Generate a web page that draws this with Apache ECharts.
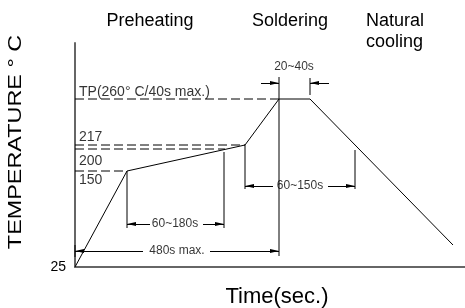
<!DOCTYPE html>
<html>
<head>
<meta charset="utf-8">
<script src="https://cdn.jsdelivr.net/npm/echarts@6/dist/echarts.min.js"></script>
<style>
  html, body { margin: 0; padding: 0; background: #fff; }
  #chart { width: 465px; height: 308px; }
</style>
</head>
<body>
<div id="chart"></div>
<script>
// schematic units: the drawing is not to scale, so both axes use drawing units
const profileTime = [0, 52, 170, 204, 235, 378];
const profileTemp = [0, 96, 122, 168, 168, 22];

// dashed reference levels (TP, 217 upper, 217 lower, 150/200)
const guideLevels = [168, 122, 118, 96];
const guideEnds = [204, 170, 150, 52];
const levelLabels = ["TP(260° C/40s max.)", "217", "200", "150"];
const levelLabelY = [175, 130, 106, 87];

// extension lines for the dimensions
const extX = [52, 149, 170, 280, 204, 235, 0];
const extTop = [96, 115, 122, 117, 190, 189, 22];
const extBottom = [39, 39, 78, 78, 11, 172, 10];

// dimension arrows
const dimNames = ["20~40s", "60~150s", "60~180s", "480s max."];
const dimLevel = [184, 81, 43, 16];
const dimFrom = [204, 170, 52, 0];
const dimTo = [235, 280, 149, 204];
const dimTailLeft = [186, 198, 75, 68];
const dimTailRight = [254, 253, 128, 135];
const dimLabelX = [219, 225, 100, 102];
const dimLabelY = [200, 81, 43, 16];

const phaseNames = ["Preheating", "Soldering", "Natural\ncooling"];

const FONT = "Liberation Sans, Arial, sans-serif";
// arrow head whose tip sits at the centre of its box, so it ends on the line end
const ARROW = "path://M2 9L4 18L0 18ZM2 0";

const chart = echarts.init(document.getElementById("chart"));

const solid = { color: "#000", width: 1 };

const guideSeries = guideLevels.map((level, i) => ({
  type: "line",
  data: [[0, level], [guideEnds[i], level]],
  symbol: "none",
  silent: true,
  lineStyle: { color: "#000", width: 1, type: [9, 4] },
}));

const extSeries = extX.map((x, i) => ({
  type: "line",
  data: [[x, extTop[i]], [x, extBottom[i]]],
  symbol: "none",
  silent: true,
  lineStyle: solid,
}));

const arrowData = [];
dimLevel.forEach((level, i) => {
  arrowData.push({ coords: [[dimTailLeft[i], level], [dimFrom[i], level]] });
  arrowData.push({ coords: [[dimTailRight[i], level], [dimTo[i], level]] });
});

const labelData = [];
levelLabels.forEach((text, i) => {
  labelData.push({
    value: [4, levelLabelY[i]],
    name: text,
    label: { position: "right", distance: 0, fontSize: 14 },
  });
});
dimNames.forEach((text, i) => {
  labelData.push({
    value: [dimLabelX[i], dimLabelY[i]],
    name: text,
    label: { position: "inside", fontSize: 12 },
  });
});

chart.setOption({
  animation: false,
  backgroundColor: "#fff",
  textStyle: { fontFamily: FONT, color: "#000" },
  grid: { left: 75, right: 0, top: 43, bottom: 41, outerBoundsMode: "none" },
  xAxis: {
    type: "value",
    min: 0,
    max: 390,
    axisLine: { show: true, lineStyle: { color: "#666", width: 2 } },
    axisTick: { show: false },
    axisLabel: { show: false },
    splitLine: { show: false },
    name: "Time(sec.)",
    nameLocation: "middle",
    nameGap: 19,
    nameTextStyle: { fontSize: 22, color: "#000", fontFamily: FONT, padding: [0, 0, 0, 14] },
  },
  yAxis: {
    type: "value",
    min: 0,
    max: 224,
    interval: 224,
    axisLine: { show: true, lineStyle: { color: "#666", width: 2 } },
    axisTick: { show: false },
    splitLine: { show: false },
    axisLabel: {
      margin: 9,
      fontSize: 14,
      color: "#000",
      fontFamily: FONT,
      formatter: (value) => (value === 0 ? "25" : ""),
    },
  },
  graphic: [
    {
      type: "text",
      x: 16,
      y: 142,
      rotation: Math.PI / 2,
      scaleX: 1.3,
      style: {
        text: "TEMPERATURE ° C",
        fontSize: 18,
        fontFamily: FONT,
        fill: "#000",
        textAlign: "center",
        textVerticalAlign: "middle",
      },
    },
    {
      type: "text",
      x: 150,
      y: 21,
      style: { text: phaseNames[0], fontSize: 18, fontFamily: FONT, fill: "#000", textAlign: "center", textVerticalAlign: "middle" },
    },
    {
      type: "text",
      x: 290,
      y: 21,
      style: { text: phaseNames[1], fontSize: 18, fontFamily: FONT, fill: "#000", textAlign: "center", textVerticalAlign: "middle" },
    },
    {
      type: "text",
      x: 366,
      y: 11,
      style: { text: phaseNames[2], fontSize: 18, lineHeight: 21, fontFamily: FONT, fill: "#000", textAlign: "left", textVerticalAlign: "top" },
    },
  ],
  series: [
    {
      type: "line",
      data: profileTime.map((t, i) => [t, profileTemp[i]]),
      symbol: "none",
      silent: true,
      lineStyle: solid,
    },
    ...guideSeries,
    ...extSeries,
    {
      type: "lines",
      coordinateSystem: "cartesian2d",
      data: arrowData,
      symbol: ["none", ARROW],
      symbolSize: [0, [4, 18]],
      silent: true,
      lineStyle: { color: "#000", width: 1, opacity: 1 },
      itemStyle: { color: "#000" },
    },
    {
      type: "scatter",
      data: labelData,
      symbolSize: 0,
      silent: true,
      clip: false,
      label: {
        show: true,
        formatter: "{b}",
        color: "#000",
        fontFamily: FONT,
      },
    },
  ],
});
</script>
</body>
</html>
